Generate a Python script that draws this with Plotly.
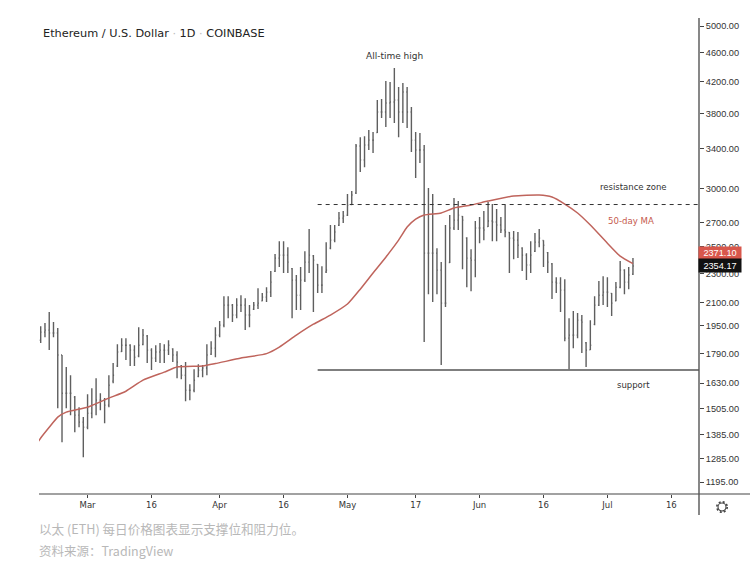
import pandas as pd
import plotly.graph_objects as go

FIRST_DAY = "2021-02-18"
OPEN = [1865,1913,1925,1908,1908,1780,1579,1579,1560,1474,
1442,1419,1483,1521,1545,1545,1521,1640,1720,1800,
1836,1836,1808,1775,1840,1890,1808,1763,1797,1808,
1808,1815,1780,1720,1671,1594,1594,1665,1698,1709,
1785,1819,1895,1955,2082,2082,2018,2082,2082,2018,
2055,2082,2110,2135,2169,2315,2413,2436,2436,2335,
2252,2148,2252,2383,2430,2365,2217,2310,2490,2553,
2675,2736,2760,2855,2960,3430,3283,3441,3495,3580,
3817,3817,3926,3939,3963,3817,4065,3817,3495,3388,
3388,2451,2451,2451,2324,2095,2380,2652,2719,2750,
2570,2413,2398,2652,2652,2665,2711,2702,2677,2635,
2615,2569,2553,2490,2436,2361,2465,2537,2550,2455,
2370,2238,2231,2182,1877,1895,1895,1986,1850,1810,
1960,2082,2148,2169,2160,2110,2202,2324,2238,2295]
HIGH = [1949,1968,2037,1974,1937,1780,1714,1671,1565,1511,
1465,1574,1604,1655,1579,1555,1671,1736,1842,1877,
1877,1842,1836,1943,1931,1895,1819,1836,1848,1842,
1865,1819,1802,1725,1741,1624,1703,1730,1725,1842,
1859,1943,1980,2141,2141,2089,2128,2148,2128,2082,
2102,2195,2162,2202,2317,2444,2545,2545,2497,2339,
2288,2346,2466,2643,2436,2368,2353,2537,2677,2677,
2789,2797,2952,2979,3452,3527,3538,3607,3585,3963,
3975,4207,4194,4382,4128,4181,4128,3878,3585,3573,
3441,3007,2952,2489,2383,2677,2762,2913,2886,2754,
2577,2482,2711,2745,2797,2877,2859,2815,2745,2850,
2619,2627,2619,2497,2451,2545,2610,2643,2553,2459,
2376,2273,2273,2259,1998,2044,2031,2018,1854,1986,
2141,2245,2280,2273,2162,2238,2391,2331,2346,2413]
LOW = [1848,1882,1808,1882,1506,1354,1506,1474,1397,1419,
1292,1410,1460,1474,1497,1437,1511,1629,1714,1797,
1752,1720,1720,1768,1836,1736,1698,1741,1736,1736,
1780,1741,1655,1650,1540,1545,1584,1660,1660,1671,
1780,1768,1882,1943,1998,1974,1998,2037,1925,1943,
2050,2056,2108,2102,2135,2310,2346,2303,2303,1998,
2050,2050,2238,2303,2037,2162,2162,2303,2482,2537,
2669,2694,2754,2850,2952,3161,3210,3388,3356,3573,
3746,3641,3746,3687,3527,3687,3630,3367,3102,3252,
1854,2155,2102,2155,1725,2069,2376,2635,2635,2331,
2202,2175,2273,2529,2553,2660,2545,2545,2610,2577,
2303,2405,2413,2317,2252,2303,2459,2497,2346,2303,
2122,2162,2037,1859,1703,1819,1877,1791,1714,1808,
1955,2076,2082,2069,2012,2108,2195,2155,2189,2288]
CLOSE = [1913,1925,1908,1908,1780,1579,1579,1579,1474,1442,
1419,1483,1521,1545,1545,1521,1619,1671,1797,1836,
1836,1808,1768,1836,1895,1808,1763,1797,1808,1808,
1836,1780,1741,1671,1594,1594,1645,1698,1709,1780,
1819,1895,1955,2082,2082,2018,2082,2082,2018,2018,
2082,2095,2135,2169,2238,2413,2436,2436,2383,2252,
2148,2252,2383,2436,2398,2217,2217,2324,2553,2619,
2736,2754,2850,2942,3430,3283,3441,3495,3495,3817,
3817,3926,3939,3963,3817,4065,3817,3495,3388,3388,
2451,2451,2451,2324,2095,2095,2652,2719,2762,2719,
2413,2398,2652,2652,2635,2711,2702,2677,2635,2619,
2569,2553,2513,2436,2361,2436,2537,2569,2513,2383,
2238,2231,2182,1877,1895,1895,1986,1974,1808,1836,
2082,2148,2169,2169,2095,2202,2324,2238,2288,2354.17]

MA_DATES = ["2021-02-17","2021-02-18","2021-02-20","2021-02-22","2021-02-24","2021-03-01","2021-03-06",
"2021-03-10","2021-03-14","2021-03-19","2021-03-22","2021-03-28","2021-03-31","2021-04-06",
"2021-04-12","2021-04-15","2021-04-19","2021-04-23","2021-04-27","2021-05-01","2021-05-04",
"2021-05-07","2021-05-10","2021-05-13","2021-05-15","2021-05-17","2021-05-19","2021-05-23",
"2021-05-26","2021-05-30","2021-06-03","2021-06-09","2021-06-15","2021-06-18","2021-06-21",
"2021-06-24","2021-06-27","2021-07-01","2021-07-04","2021-07-07"]
MA_VALUES = [1345,1372,1419,1465,1488,1511,1555,1589,1645,1687,1714,1720,1733,1763,1788,1825,
1895,1961,2018,2089,2189,2303,2420,2553,2660,2727,2762,2780,2824,2850,2886,2933,2942,
2923,2859,2780,2677,2529,2428,2371.10]

RESISTANCE = 2855
SUPPORT = 1698
LEVEL_START = "2021-04-24"
X_RANGE = ["2021-02-17 14:24", "2021-07-22 12:00"]
Y_TICKS = [5000,4600,4200,3800,3400,3000,2700,2500,2300,2100,1950,1790,1630,1505,1385,1285,1195]
Y_LABELS = ["5000.00","4600.00","4200.00","3800.00","3400.00","3000.00","2700.00","2500.00",
"2300.00","2100.00","1950.00","1790.00","1630.00","1505.00","1385.00","1285.00","1195.00"]
X_TICKS = ["2021-03-01","2021-03-16","2021-04-01","2021-04-16","2021-05-01","2021-05-17",
"2021-06-01","2021-06-16","2021-07-01","2021-07-16"]
X_LABELS = ["Mar","16","Apr","16","May","17","Jun","16","Jul","16"]

dates = pd.date_range(FIRST_DAY, periods=len(CLOSE))

L, R, T, B = 39, 699, 18, 494
def px(x): return (x - L) / (R - L)
def py(y): return (B - y) / (B - T)

fig = go.Figure()
fig.add_trace(go.Ohlc(
    x=dates, open=OPEN, high=HIGH, low=LOW, close=CLOSE, tickwidth=0.22,
    increasing=dict(line=dict(color="#5f5f5f", width=1.4)),
    decreasing=dict(line=dict(color="#5f5f5f", width=1.4)),
    hoverinfo="skip", showlegend=False))
fig.add_trace(go.Scatter(x=MA_DATES, y=MA_VALUES, mode="lines",
    line=dict(color="#bf645c", width=1.5, shape="spline", smoothing=0.5),
    hoverinfo="skip", showlegend=False))

TEXT = "#333333"
fig.update_layout(
    width=750, height=567, margin=dict(l=L, r=750-R, t=T, b=567-B),
    paper_bgcolor="white", plot_bgcolor="white", showlegend=False,
    font=dict(family="Liberation Sans", color=TEXT, size=9),
    xaxis=dict(type="date", range=X_RANGE, rangeslider=dict(visible=False), showgrid=False, zeroline=False,
        tickmode="array", tickvals=X_TICKS, ticktext=X_LABELS, ticks="outside", ticklen=3, tickcolor="#444",
        tickfont=dict(family="DejaVu Sans", size=8.5, color=TEXT), showline=False),
    yaxis=dict(type="log", side="right", range=[3.06101, 3.70987], showgrid=False, zeroline=False,
        tickmode="array", tickvals=Y_TICKS, ticktext=Y_LABELS, ticks="outside", ticklen=4, tickcolor="#444",
        tickfont=dict(family="Liberation Sans", size=9.2, color=TEXT), showline=False, automargin=False),
)

shapes = [
    dict(type="line", xref="x", yref="y", x0=LEVEL_START, x1=X_RANGE[1], y0=RESISTANCE, y1=RESISTANCE,
         line=dict(color="#333", width=1, dash="4px,4px")),
    dict(type="line", xref="x", yref="y", x0=LEVEL_START, x1=X_RANGE[1], y0=SUPPORT, y1=SUPPORT,
         line=dict(color="#555", width=1.5)),
    dict(type="line", xref="paper", yref="paper", x0=0, x1=px(750), y0=0, y1=0, line=dict(color="#444", width=1.2)),
    dict(type="line", xref="paper", yref="paper", x0=1, x1=1, y0=py(515), y1=1, line=dict(color="#555", width=1.4)),
    dict(type="circle", xref="paper", yref="paper", x0=px(718), x1=px(726), y0=py(511), y1=py(503),
         line=dict(color="#444", width=1.1)),
    dict(type="circle", xref="paper", yref="paper", x0=px(716.8), x1=px(727.2), y0=py(512.2), y1=py(501.8),
         line=dict(color="#444", width=1.6, dash="2px,2.1px")),
]
fig.update_layout(shapes=shapes)

def note(x, y, text, size=9.5, color=TEXT, family="DejaVu Sans", anchor="center", **kw):
    fig.add_annotation(xref="paper", yref="paper", x=px(x), y=py(y), text=text, showarrow=False,
        font=dict(size=size, color=color, family=family), xanchor=anchor, yanchor="middle", **kw)

note(41, 33.5, 'Ethereum / U.S. Dollar <span style="color:#bbbbbb">·</span> 1D <span style="color:#bbbbbb">·</span> COINBASE',
     size=11.3, color="#222", anchor="left")
note(394, 56, "All-time high", size=9)
note(633, 187.5, "resistance zone", size=8.5)
note(631, 221, "50-day MA", size=8.6, color="#c65a4e")
note(633, 385, "support", size=8.5)
note(720, 253, "2371.10", size=9.2, color="white", bgcolor="#d8574c", width=42, height=12, borderpad=0, family="Liberation Sans")
note(720, 265.5, "2354.17", size=9.2, color="white", bgcolor="#111111", width=42, height=13, borderpad=0, family="Liberation Sans")
note(37, 528, "以太 (ETH) 每日价格图表显示支撑位和阻力位。", size=12.6, color="#b8b8b8", family="Noto Sans CJK SC", anchor="left")
note(37, 550, "资料来源：TradingView", size=12.5, color="#b8b8b8", family="Noto Sans CJK SC", anchor="left")

fig.write_html("out.html", config={"displayModeBar": False}, post_script="document.body.style.margin='0';")
